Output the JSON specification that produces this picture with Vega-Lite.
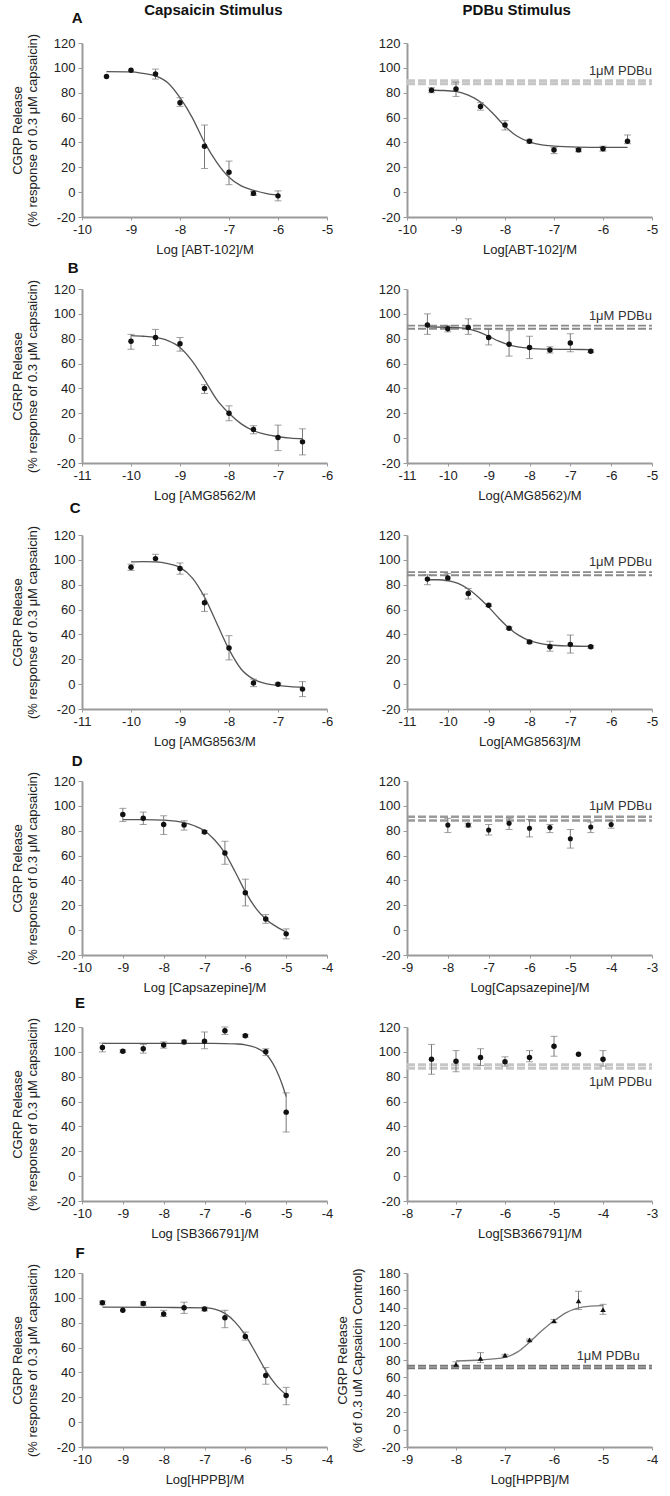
{
"$schema":"https://vega.github.io/schema/vega-lite/v6.json",
"padding":{"left":11,"top":3,"right":6,"bottom":4},
"background":"white",
"config":{"view":{"stroke":null},"font":"Liberation Sans",
 "axis":{"domainColor":"#9a9a9a","domainWidth":2,"tickColor":"#9a9a9a","labelFont":"Liberation Sans","labelFontSize":13,"labelColor":"#222","titleFont":"Liberation Sans","titleFontSize":13,"titleFontWeight":"normal","titleColor":"#222","grid":false,"labelFlush":false,"labelOverlap":false,"labelExpr":"'' + datum.value"},
 "axisX":{"tickSize":3,"labelPadding":3,"titlePadding":7},
 "axisY":{"tickSize":4,"labelPadding":3,"titlePadding":14,"titleLineHeight":15}},
"datasets":{
"pts":[
{"p":"A1","x":-9.5,"y":93,"lo":93,"hi":93},{"p":"A1","x":-9,"y":98,"lo":98,"hi":98},{"p":"A1","x":-8.5,"y":95,"lo":91,"hi":99},{"p":"A1","x":-8,"y":72,"lo":69,"hi":76},{"p":"A1","x":-7.5,"y":37,"lo":19,"hi":54},{"p":"A1","x":-7,"y":16,"lo":6,"hi":25},{"p":"A1","x":-6.5,"y":-1,"lo":-2.5,"hi":0.5},{"p":"A1","x":-6,"y":-3,"lo":-7,"hi":1},
{"p":"A2","x":-9.5,"y":82,"lo":80,"hi":84},{"p":"A2","x":-9,"y":83,"lo":77,"hi":88.5},{"p":"A2","x":-8.5,"y":69,"lo":66,"hi":72},{"p":"A2","x":-8,"y":54,"lo":50,"hi":57.5},{"p":"A2","x":-7.5,"y":41,"lo":39.5,"hi":42.5},{"p":"A2","x":-7,"y":34,"lo":31,"hi":36},{"p":"A2","x":-6.5,"y":34,"lo":32.5,"hi":35},{"p":"A2","x":-6,"y":35,"lo":33,"hi":37},{"p":"A2","x":-5.5,"y":41,"lo":39,"hi":46},
{"p":"B1","x":-10,"y":78,"lo":71.5,"hi":83.5},{"p":"B1","x":-9.5,"y":81,"lo":74.5,"hi":87.5},{"p":"B1","x":-9,"y":76,"lo":70,"hi":81},{"p":"B1","x":-8.5,"y":40,"lo":36,"hi":43},{"p":"B1","x":-8,"y":20,"lo":14,"hi":26},{"p":"B1","x":-7.5,"y":7,"lo":3.5,"hi":10},{"p":"B1","x":-7,"y":0.5,"lo":-10,"hi":10.5},{"p":"B1","x":-6.5,"y":-3,"lo":-13.5,"hi":7.5},
{"p":"B2","x":-10.5,"y":91,"lo":83.5,"hi":100},{"p":"B2","x":-10,"y":88,"lo":85.5,"hi":90.5},{"p":"B2","x":-9.5,"y":89,"lo":83.5,"hi":96},{"p":"B2","x":-9,"y":81,"lo":75,"hi":87.5},{"p":"B2","x":-8.5,"y":75.5,"lo":66,"hi":86.5},{"p":"B2","x":-8,"y":73,"lo":64,"hi":82},{"p":"B2","x":-7.5,"y":71,"lo":68.5,"hi":73.5},{"p":"B2","x":-7,"y":76.5,"lo":69.5,"hi":84},{"p":"B2","x":-6.5,"y":70,"lo":69,"hi":71},
{"p":"C1","x":-10,"y":94,"lo":91.5,"hi":96.5},{"p":"C1","x":-9.5,"y":101,"lo":98.5,"hi":104.5},{"p":"C1","x":-9,"y":93,"lo":88.5,"hi":97.5},{"p":"C1","x":-8.5,"y":65.5,"lo":58.5,"hi":72.5},{"p":"C1","x":-8,"y":29,"lo":19.5,"hi":39},{"p":"C1","x":-7.5,"y":1,"lo":-2,"hi":4},{"p":"C1","x":-7,"y":0,"lo":-1,"hi":1},{"p":"C1","x":-6.5,"y":-4,"lo":-10,"hi":2},
{"p":"C2","x":-10.5,"y":84.5,"lo":80,"hi":88},{"p":"C2","x":-10,"y":85.5,"lo":83,"hi":89},{"p":"C2","x":-9.5,"y":73,"lo":68.5,"hi":77},{"p":"C2","x":-9,"y":63.5,"lo":62.5,"hi":64.5},{"p":"C2","x":-8.5,"y":45,"lo":44,"hi":46},{"p":"C2","x":-8,"y":34,"lo":33,"hi":35},{"p":"C2","x":-7.5,"y":30,"lo":26.5,"hi":34.5},{"p":"C2","x":-7,"y":32,"lo":25,"hi":39.5},{"p":"C2","x":-6.5,"y":30,"lo":29,"hi":31},
{"p":"D1","x":-9,"y":93,"lo":87.5,"hi":98},{"p":"D1","x":-8.5,"y":90,"lo":85,"hi":95},{"p":"D1","x":-8,"y":85,"lo":77,"hi":92},{"p":"D1","x":-7.5,"y":84.5,"lo":80.5,"hi":88},{"p":"D1","x":-7,"y":79,"lo":78,"hi":80},{"p":"D1","x":-6.5,"y":62,"lo":53,"hi":71.5},{"p":"D1","x":-6,"y":30,"lo":19.5,"hi":41},{"p":"D1","x":-5.5,"y":9,"lo":5.5,"hi":12.5},{"p":"D1","x":-5,"y":-3,"lo":-7,"hi":1},
{"p":"D2","x":-8,"y":84.5,"lo":78.5,"hi":90},{"p":"D2","x":-7.5,"y":84.5,"lo":83,"hi":86},{"p":"D2","x":-7,"y":80.5,"lo":76.5,"hi":85},{"p":"D2","x":-6.5,"y":86,"lo":81,"hi":90},{"p":"D2","x":-6,"y":82,"lo":75,"hi":89},{"p":"D2","x":-5.5,"y":82.5,"lo":78.5,"hi":85},{"p":"D2","x":-5,"y":73.5,"lo":66,"hi":81},{"p":"D2","x":-4.5,"y":83,"lo":78.5,"hi":87},{"p":"D2","x":-4,"y":85,"lo":82,"hi":88},
{"p":"E1","x":-9.5,"y":103.5,"lo":100,"hi":107},{"p":"E1","x":-9,"y":100.5,"lo":99.5,"hi":101.5},{"p":"E1","x":-8.5,"y":102.5,"lo":99,"hi":106},{"p":"E1","x":-8,"y":105.5,"lo":103,"hi":108},{"p":"E1","x":-7.5,"y":108,"lo":106.5,"hi":109.5},{"p":"E1","x":-7,"y":108.5,"lo":102.5,"hi":116},{"p":"E1","x":-6.5,"y":117,"lo":114,"hi":120},{"p":"E1","x":-6,"y":113,"lo":112,"hi":114},{"p":"E1","x":-5.5,"y":100,"lo":97,"hi":102.5},{"p":"E1","x":-5,"y":51.5,"lo":35.5,"hi":67},
{"p":"E2","x":-7.5,"y":94,"lo":82,"hi":106},{"p":"E2","x":-7,"y":92.5,"lo":84,"hi":101},{"p":"E2","x":-6.5,"y":95.5,"lo":89,"hi":102.5},{"p":"E2","x":-6,"y":92,"lo":88.5,"hi":96},{"p":"E2","x":-5.5,"y":95.5,"lo":92,"hi":101},{"p":"E2","x":-5,"y":104.5,"lo":96.5,"hi":112.5},{"p":"E2","x":-4.5,"y":98,"lo":98,"hi":98},{"p":"E2","x":-4,"y":94,"lo":88.5,"hi":101},
{"p":"F1","x":-9.5,"y":96,"lo":94.5,"hi":97.5},{"p":"F1","x":-9,"y":90,"lo":90,"hi":90},{"p":"F1","x":-8.5,"y":95.5,"lo":94,"hi":97},{"p":"F1","x":-8,"y":87,"lo":85,"hi":90},{"p":"F1","x":-7.5,"y":92,"lo":87.5,"hi":96.5},{"p":"F1","x":-7,"y":91,"lo":89.5,"hi":92.5},{"p":"F1","x":-6.5,"y":84,"lo":76,"hi":90},{"p":"F1","x":-6,"y":69,"lo":66,"hi":72.5},{"p":"F1","x":-5.5,"y":37.5,"lo":30.5,"hi":44},{"p":"F1","x":-5,"y":21.5,"lo":14,"hi":28},
{"p":"F2","x":-8,"y":75,"lo":72,"hi":78},{"p":"F2","x":-7.5,"y":82,"lo":77,"hi":88.5},{"p":"F2","x":-7,"y":85.5,"lo":84.5,"hi":86.5},{"p":"F2","x":-6.5,"y":103,"lo":102,"hi":104},{"p":"F2","x":-6,"y":125,"lo":123.5,"hi":126.5},{"p":"F2","x":-5.5,"y":148,"lo":138,"hi":159},{"p":"F2","x":-5,"y":138,"lo":132.5,"hi":144}
],
"fit":[
{"p":"A1","x":-9.5,"y":97},{"p":"A1","x":-9,"y":96.8},{"p":"A1","x":-8.75,"y":95.5},{"p":"A1","x":-8.5,"y":93.5},{"p":"A1","x":-8.25,"y":88},{"p":"A1","x":-8,"y":76},{"p":"A1","x":-7.75,"y":60},{"p":"A1","x":-7.5,"y":40},{"p":"A1","x":-7.25,"y":24},{"p":"A1","x":-7,"y":12},{"p":"A1","x":-6.75,"y":5},{"p":"A1","x":-6.5,"y":1.5},{"p":"A1","x":-6.25,"y":-1},{"p":"A1","x":-6,"y":-2.5},
{"p":"A2","x":-9.5,"y":82},{"p":"A2","x":-9.25,"y":81.8},{"p":"A2","x":-9,"y":81},{"p":"A2","x":-8.75,"y":78},{"p":"A2","x":-8.5,"y":72.5},{"p":"A2","x":-8.25,"y":63.5},{"p":"A2","x":-8,"y":53},{"p":"A2","x":-7.75,"y":45},{"p":"A2","x":-7.5,"y":40.5},{"p":"A2","x":-7.25,"y":38},{"p":"A2","x":-7,"y":37},{"p":"A2","x":-6.5,"y":36.2},{"p":"A2","x":-6,"y":36},{"p":"A2","x":-5.5,"y":36},
{"p":"B1","x":-10,"y":82.5},{"p":"B1","x":-9.75,"y":82},{"p":"B1","x":-9.5,"y":81},{"p":"B1","x":-9.25,"y":78.5},{"p":"B1","x":-9,"y":73},{"p":"B1","x":-8.75,"y":62},{"p":"B1","x":-8.5,"y":47},{"p":"B1","x":-8.25,"y":31},{"p":"B1","x":-8,"y":20},{"p":"B1","x":-7.75,"y":11.5},{"p":"B1","x":-7.5,"y":6},{"p":"B1","x":-7.25,"y":3},{"p":"B1","x":-7,"y":1.2},{"p":"B1","x":-6.75,"y":0},{"p":"B1","x":-6.5,"y":-0.5},
{"p":"B2","x":-10.5,"y":89.5},{"p":"B2","x":-10,"y":89.2},{"p":"B2","x":-9.75,"y":89},{"p":"B2","x":-9.5,"y":88},{"p":"B2","x":-9.25,"y":85.5},{"p":"B2","x":-9,"y":82},{"p":"B2","x":-8.75,"y":78},{"p":"B2","x":-8.5,"y":75},{"p":"B2","x":-8.25,"y":73.2},{"p":"B2","x":-8,"y":72.3},{"p":"B2","x":-7.5,"y":71.6},{"p":"B2","x":-7,"y":71.4},{"p":"B2","x":-6.5,"y":71.3},
{"p":"C1","x":-10,"y":98.3},{"p":"C1","x":-9.75,"y":98.5},{"p":"C1","x":-9.5,"y":98.3},{"p":"C1","x":-9.25,"y":97},{"p":"C1","x":-9,"y":94},{"p":"C1","x":-8.75,"y":85.5},{"p":"C1","x":-8.5,"y":70},{"p":"C1","x":-8.25,"y":49},{"p":"C1","x":-8,"y":28},{"p":"C1","x":-7.75,"y":12},{"p":"C1","x":-7.5,"y":4},{"p":"C1","x":-7.25,"y":0.5},{"p":"C1","x":-7,"y":-1},{"p":"C1","x":-6.75,"y":-2},{"p":"C1","x":-6.5,"y":-2.5},
{"p":"C2","x":-10.5,"y":84},{"p":"C2","x":-10.25,"y":84},{"p":"C2","x":-10,"y":83.3},{"p":"C2","x":-9.75,"y":81},{"p":"C2","x":-9.5,"y":76.5},{"p":"C2","x":-9.25,"y":70},{"p":"C2","x":-9,"y":62},{"p":"C2","x":-8.75,"y":53},{"p":"C2","x":-8.5,"y":45},{"p":"C2","x":-8.25,"y":39},{"p":"C2","x":-8,"y":35},{"p":"C2","x":-7.75,"y":32.8},{"p":"C2","x":-7.5,"y":31.5},{"p":"C2","x":-7,"y":30.7},{"p":"C2","x":-6.5,"y":30.4},
{"p":"D1","x":-9,"y":89},{"p":"D1","x":-8.5,"y":89},{"p":"D1","x":-8,"y":88.5},{"p":"D1","x":-7.5,"y":86.5},{"p":"D1","x":-7.25,"y":84},{"p":"D1","x":-7,"y":80},{"p":"D1","x":-6.75,"y":72.5},{"p":"D1","x":-6.5,"y":62},{"p":"D1","x":-6.25,"y":47},{"p":"D1","x":-6,"y":31},{"p":"D1","x":-5.75,"y":18},{"p":"D1","x":-5.5,"y":9},{"p":"D1","x":-5.25,"y":3},{"p":"D1","x":-5,"y":-1.5},
{"p":"E1","x":-9.5,"y":106.8},{"p":"E1","x":-8,"y":106.8},{"p":"E1","x":-7,"y":106.8},{"p":"E1","x":-6.5,"y":106.7},{"p":"E1","x":-6.25,"y":106.4},{"p":"E1","x":-6,"y":105.7},{"p":"E1","x":-5.75,"y":103.5},{"p":"E1","x":-5.5,"y":98.5},{"p":"E1","x":-5.25,"y":86},{"p":"E1","x":-5.1,"y":74},{"p":"E1","x":-5,"y":64},
{"p":"F1","x":-9.5,"y":92.5},{"p":"F1","x":-8,"y":92.3},{"p":"F1","x":-7,"y":92},{"p":"F1","x":-6.75,"y":91},{"p":"F1","x":-6.5,"y":87.5},{"p":"F1","x":-6.25,"y":80.5},{"p":"F1","x":-6,"y":70},{"p":"F1","x":-5.75,"y":56},{"p":"F1","x":-5.5,"y":41.5},{"p":"F1","x":-5.25,"y":30},{"p":"F1","x":-5,"y":22},
{"p":"F2","x":-8,"y":79},{"p":"F2","x":-7.5,"y":80},{"p":"F2","x":-7,"y":83},{"p":"F2","x":-6.75,"y":89},{"p":"F2","x":-6.5,"y":100.5},{"p":"F2","x":-6.25,"y":113.5},{"p":"F2","x":-6,"y":125},{"p":"F2","x":-5.75,"y":134.5},{"p":"F2","x":-5.5,"y":140},{"p":"F2","x":-5.25,"y":142},{"p":"F2","x":-5,"y":142.5}
],
"ref":[
{"p":"A2","x":-10,"x2":-5,"y":87.3},{"p":"A2","x":-10,"x2":-5,"y":89.7},
{"p":"B2","x":-11,"x2":-5,"y":88},{"p":"B2","x":-11,"x2":-5,"y":90.5},
{"p":"C2","x":-11,"x2":-5,"y":87.6},{"p":"C2","x":-11,"x2":-5,"y":90.2},
{"p":"D2","x":-9,"x2":-3,"y":88.3},{"p":"D2","x":-9,"x2":-3,"y":91.2},
{"p":"E2","x":-8,"x2":-3,"y":86.9},{"p":"E2","x":-8,"x2":-3,"y":89.6},
{"p":"F2","x":-9,"x2":-4,"y":70.6},{"p":"F2","x":-9,"x2":-4,"y":73.3}
],
"lbl":[
{"p":"A2","x":-5,"y":97.3,"t":"1μM PDBu"},{"p":"B2","x":-5,"y":98.5,"t":"1μM PDBu"},{"p":"C2","x":-5,"y":98.2,"t":"1μM PDBu"},{"p":"D2","x":-3,"y":99.7,"t":"1μM PDBu"},{"p":"E2","x":-3,"y":76,"t":"1μM PDBu"},{"p":"F2","x":-4.25,"y":84.8,"t":"1μM PDBu"}
],
"hdr":[
{"p":"A1","x":-7.32,"y":146.5,"t":"Capsaicin Stimulus"},{"p":"A2","x":-7.76,"y":146.5,"t":"PDBu Stimulus"},
{"p":"A1","x":-10.1,"y":140,"t":"A"},{"p":"B1","x":-11.18,"y":137,"t":"B"},{"p":"C1","x":-11.14,"y":141.5,"t":"C"},{"p":"D1","x":-10.12,"y":136,"t":"D"},{"p":"E1","x":-10.05,"y":139,"t":"E"},{"p":"F1","x":-10.05,"y":136,"t":"F"}
]
},
"bounds":"flush",
"columns":2,
"spacing":{"row":72,"column":80},
"concat":[
 {"width":245,"height":174,
  "encoding":{"x":{"field":"x","type":"quantitative","scale":{"domain":[-10,-5]},"axis":{"values":[-10,-9,-8,-7,-6,-5],"title":"Log [ABT-102]/M"}},
   "y":{"field":"y","type":"quantitative","scale":{"domain":[-20,120]},"axis":{"values":[-20,0,20,40,60,80,100,120],"title":["CGRP Release","(% response of 0.3 μM capsaicin)"]}}},
  "layer":[
   {"data":{"name":"fit"},"transform":[{"filter":"datum.p=='A1'"}],"mark":{"type":"line","interpolate":"monotone","color":"#555","strokeWidth":1.3}},
   {"data":{"name":"pts"},"transform":[{"filter":"datum.p=='A1' && datum.hi>datum.lo"}],"mark":{"type":"rule","color":"#777","strokeWidth":1},"encoding":{"y":{"field":"lo","type":"quantitative","scale":{"domain":[-20,120]}},"y2":{"field":"hi"}}},
   {"data":{"name":"pts"},"transform":[{"filter":"datum.p=='A1' && datum.hi>datum.lo"}],"mark":{"type":"tick","orient":"horizontal","color":"#777","size":7,"thickness":1},"encoding":{"y":{"field":"lo","type":"quantitative","scale":{"domain":[-20,120]}}}},
   {"data":{"name":"pts"},"transform":[{"filter":"datum.p=='A1' && datum.hi>datum.lo"}],"mark":{"type":"tick","orient":"horizontal","color":"#777","size":7,"thickness":1},"encoding":{"y":{"field":"hi","type":"quantitative","scale":{"domain":[-20,120]}}}},
   {"data":{"name":"pts"},"transform":[{"filter":"datum.p=='A1'"}],"mark":{"type":"point","shape":"circle","filled":true,"color":"#111","size":30,"opacity":1}},
   {"data":{"name":"hdr"},"transform":[{"filter":"datum.p=='A1'"}],"mark":{"type":"text","fontWeight":"bold","fontSize":15,"align":"center","baseline":"middle","color":"#111"},"encoding":{"text":{"field":"t"}}}
  ]},
 {"width":245,"height":174,
  "encoding":{"x":{"field":"x","type":"quantitative","scale":{"domain":[-10,-5]},"axis":{"values":[-10,-9,-8,-7,-6,-5],"title":"Log[ABT-102]/M"}},
   "y":{"field":"y","type":"quantitative","scale":{"domain":[-20,120]},"axis":{"values":[-20,0,20,40,60,80,100,120],"title":null}}},
  "layer":[
   {"data":{"name":"ref"},"transform":[{"filter":"datum.p=='A2'"}],"mark":{"type":"rule","color":"#c6c6c6","strokeWidth":3,"strokeDash":[8,3]},"encoding":{"x2":{"field":"x2"}}},
   {"data":{"name":"fit"},"transform":[{"filter":"datum.p=='A2'"}],"mark":{"type":"line","interpolate":"monotone","color":"#555","strokeWidth":1.3}},
   {"data":{"name":"pts"},"transform":[{"filter":"datum.p=='A2' && datum.hi>datum.lo"}],"mark":{"type":"rule","color":"#777","strokeWidth":1},"encoding":{"y":{"field":"lo","type":"quantitative","scale":{"domain":[-20,120]}},"y2":{"field":"hi"}}},
   {"data":{"name":"pts"},"transform":[{"filter":"datum.p=='A2' && datum.hi>datum.lo"}],"mark":{"type":"tick","orient":"horizontal","color":"#777","size":7,"thickness":1},"encoding":{"y":{"field":"lo","type":"quantitative","scale":{"domain":[-20,120]}}}},
   {"data":{"name":"pts"},"transform":[{"filter":"datum.p=='A2' && datum.hi>datum.lo"}],"mark":{"type":"tick","orient":"horizontal","color":"#777","size":7,"thickness":1},"encoding":{"y":{"field":"hi","type":"quantitative","scale":{"domain":[-20,120]}}}},
   {"data":{"name":"pts"},"transform":[{"filter":"datum.p=='A2'"}],"mark":{"type":"point","shape":"circle","filled":true,"color":"#111","size":30,"opacity":1}},
   {"data":{"name":"lbl"},"transform":[{"filter":"datum.p=='A2'"}],"mark":{"type":"text","align":"right","baseline":"middle","fontSize":13,"color":"#333"},"encoding":{"text":{"field":"t"}}},
   {"data":{"name":"hdr"},"transform":[{"filter":"datum.p=='A2'"}],"mark":{"type":"text","fontWeight":"bold","fontSize":15,"align":"center","baseline":"middle","color":"#111"},"encoding":{"text":{"field":"t"}}}
  ]},
 {"width":245,"height":174,
  "encoding":{"x":{"field":"x","type":"quantitative","scale":{"domain":[-11,-6]},"axis":{"values":[-11,-10,-9,-8,-7,-6],"title":"Log [AMG8562/M"}},
   "y":{"field":"y","type":"quantitative","scale":{"domain":[-20,120]},"axis":{"values":[-20,0,20,40,60,80,100,120],"title":["CGRP Release","(% response of 0.3 μM capsaicin)"]}}},
  "layer":[
   {"data":{"name":"fit"},"transform":[{"filter":"datum.p=='B1'"}],"mark":{"type":"line","interpolate":"monotone","color":"#555","strokeWidth":1.3}},
   {"data":{"name":"pts"},"transform":[{"filter":"datum.p=='B1' && datum.hi>datum.lo"}],"mark":{"type":"rule","color":"#777","strokeWidth":1},"encoding":{"y":{"field":"lo","type":"quantitative","scale":{"domain":[-20,120]}},"y2":{"field":"hi"}}},
   {"data":{"name":"pts"},"transform":[{"filter":"datum.p=='B1' && datum.hi>datum.lo"}],"mark":{"type":"tick","orient":"horizontal","color":"#777","size":7,"thickness":1},"encoding":{"y":{"field":"lo","type":"quantitative","scale":{"domain":[-20,120]}}}},
   {"data":{"name":"pts"},"transform":[{"filter":"datum.p=='B1' && datum.hi>datum.lo"}],"mark":{"type":"tick","orient":"horizontal","color":"#777","size":7,"thickness":1},"encoding":{"y":{"field":"hi","type":"quantitative","scale":{"domain":[-20,120]}}}},
   {"data":{"name":"pts"},"transform":[{"filter":"datum.p=='B1'"}],"mark":{"type":"point","shape":"circle","filled":true,"color":"#111","size":30,"opacity":1}},
   {"data":{"name":"hdr"},"transform":[{"filter":"datum.p=='B1'"}],"mark":{"type":"text","fontWeight":"bold","fontSize":15,"align":"center","baseline":"middle","color":"#111"},"encoding":{"text":{"field":"t"}}}
  ]},
 {"width":245,"height":174,
  "encoding":{"x":{"field":"x","type":"quantitative","scale":{"domain":[-11,-5]},"axis":{"values":[-11,-10,-9,-8,-7,-6,-5],"title":"Log(AMG8562)/M"}},
   "y":{"field":"y","type":"quantitative","scale":{"domain":[-20,120]},"axis":{"values":[-20,0,20,40,60,80,100,120],"title":null}}},
  "layer":[
   {"data":{"name":"ref"},"transform":[{"filter":"datum.p=='B2'"}],"mark":{"type":"rule","color":"#8a8a8a","strokeWidth":1.8,"strokeDash":[8,3]},"encoding":{"x2":{"field":"x2"}}},
   {"data":{"name":"fit"},"transform":[{"filter":"datum.p=='B2'"}],"mark":{"type":"line","interpolate":"monotone","color":"#555","strokeWidth":1.3}},
   {"data":{"name":"pts"},"transform":[{"filter":"datum.p=='B2' && datum.hi>datum.lo"}],"mark":{"type":"rule","color":"#777","strokeWidth":1},"encoding":{"y":{"field":"lo","type":"quantitative","scale":{"domain":[-20,120]}},"y2":{"field":"hi"}}},
   {"data":{"name":"pts"},"transform":[{"filter":"datum.p=='B2' && datum.hi>datum.lo"}],"mark":{"type":"tick","orient":"horizontal","color":"#777","size":7,"thickness":1},"encoding":{"y":{"field":"lo","type":"quantitative","scale":{"domain":[-20,120]}}}},
   {"data":{"name":"pts"},"transform":[{"filter":"datum.p=='B2' && datum.hi>datum.lo"}],"mark":{"type":"tick","orient":"horizontal","color":"#777","size":7,"thickness":1},"encoding":{"y":{"field":"hi","type":"quantitative","scale":{"domain":[-20,120]}}}},
   {"data":{"name":"pts"},"transform":[{"filter":"datum.p=='B2'"}],"mark":{"type":"point","shape":"circle","filled":true,"color":"#111","size":30,"opacity":1}},
   {"data":{"name":"lbl"},"transform":[{"filter":"datum.p=='B2'"}],"mark":{"type":"text","align":"right","baseline":"middle","fontSize":13,"color":"#333"},"encoding":{"text":{"field":"t"}}}
  ]},
 {"width":245,"height":174,
  "encoding":{"x":{"field":"x","type":"quantitative","scale":{"domain":[-11,-6]},"axis":{"values":[-11,-10,-9,-8,-7,-6],"title":"Log [AMG8563/M"}},
   "y":{"field":"y","type":"quantitative","scale":{"domain":[-20,120]},"axis":{"values":[-20,0,20,40,60,80,100,120],"title":["CGRP Release","(% response of 0.3 μM capsaicin)"]}}},
  "layer":[
   {"data":{"name":"fit"},"transform":[{"filter":"datum.p=='C1'"}],"mark":{"type":"line","interpolate":"monotone","color":"#555","strokeWidth":1.3}},
   {"data":{"name":"pts"},"transform":[{"filter":"datum.p=='C1' && datum.hi>datum.lo"}],"mark":{"type":"rule","color":"#777","strokeWidth":1},"encoding":{"y":{"field":"lo","type":"quantitative","scale":{"domain":[-20,120]}},"y2":{"field":"hi"}}},
   {"data":{"name":"pts"},"transform":[{"filter":"datum.p=='C1' && datum.hi>datum.lo"}],"mark":{"type":"tick","orient":"horizontal","color":"#777","size":7,"thickness":1},"encoding":{"y":{"field":"lo","type":"quantitative","scale":{"domain":[-20,120]}}}},
   {"data":{"name":"pts"},"transform":[{"filter":"datum.p=='C1' && datum.hi>datum.lo"}],"mark":{"type":"tick","orient":"horizontal","color":"#777","size":7,"thickness":1},"encoding":{"y":{"field":"hi","type":"quantitative","scale":{"domain":[-20,120]}}}},
   {"data":{"name":"pts"},"transform":[{"filter":"datum.p=='C1'"}],"mark":{"type":"point","shape":"circle","filled":true,"color":"#111","size":30,"opacity":1}},
   {"data":{"name":"hdr"},"transform":[{"filter":"datum.p=='C1'"}],"mark":{"type":"text","fontWeight":"bold","fontSize":15,"align":"center","baseline":"middle","color":"#111"},"encoding":{"text":{"field":"t"}}}
  ]},
 {"width":245,"height":174,
  "encoding":{"x":{"field":"x","type":"quantitative","scale":{"domain":[-11,-5]},"axis":{"values":[-11,-10,-9,-8,-7,-6,-5],"title":"Log[AMG8563]/M"}},
   "y":{"field":"y","type":"quantitative","scale":{"domain":[-20,120]},"axis":{"values":[-20,0,20,40,60,80,100,120],"title":null}}},
  "layer":[
   {"data":{"name":"ref"},"transform":[{"filter":"datum.p=='C2'"}],"mark":{"type":"rule","color":"#8a8a8a","strokeWidth":1.8,"strokeDash":[8,3]},"encoding":{"x2":{"field":"x2"}}},
   {"data":{"name":"fit"},"transform":[{"filter":"datum.p=='C2'"}],"mark":{"type":"line","interpolate":"monotone","color":"#555","strokeWidth":1.3}},
   {"data":{"name":"pts"},"transform":[{"filter":"datum.p=='C2' && datum.hi>datum.lo"}],"mark":{"type":"rule","color":"#777","strokeWidth":1},"encoding":{"y":{"field":"lo","type":"quantitative","scale":{"domain":[-20,120]}},"y2":{"field":"hi"}}},
   {"data":{"name":"pts"},"transform":[{"filter":"datum.p=='C2' && datum.hi>datum.lo"}],"mark":{"type":"tick","orient":"horizontal","color":"#777","size":7,"thickness":1},"encoding":{"y":{"field":"lo","type":"quantitative","scale":{"domain":[-20,120]}}}},
   {"data":{"name":"pts"},"transform":[{"filter":"datum.p=='C2' && datum.hi>datum.lo"}],"mark":{"type":"tick","orient":"horizontal","color":"#777","size":7,"thickness":1},"encoding":{"y":{"field":"hi","type":"quantitative","scale":{"domain":[-20,120]}}}},
   {"data":{"name":"pts"},"transform":[{"filter":"datum.p=='C2'"}],"mark":{"type":"point","shape":"circle","filled":true,"color":"#111","size":30,"opacity":1}},
   {"data":{"name":"lbl"},"transform":[{"filter":"datum.p=='C2'"}],"mark":{"type":"text","align":"right","baseline":"middle","fontSize":13,"color":"#333"},"encoding":{"text":{"field":"t"}}}
  ]},
 {"width":245,"height":174,
  "encoding":{"x":{"field":"x","type":"quantitative","scale":{"domain":[-10,-4]},"axis":{"values":[-10,-9,-8,-7,-6,-5,-4],"title":"Log [Capsazepine]/M"}},
   "y":{"field":"y","type":"quantitative","scale":{"domain":[-20,120]},"axis":{"values":[-20,0,20,40,60,80,100,120],"title":["CGRP Release","(% response of 0.3 μM capsaicin)"]}}},
  "layer":[
   {"data":{"name":"fit"},"transform":[{"filter":"datum.p=='D1'"}],"mark":{"type":"line","interpolate":"monotone","color":"#555","strokeWidth":1.3}},
   {"data":{"name":"pts"},"transform":[{"filter":"datum.p=='D1' && datum.hi>datum.lo"}],"mark":{"type":"rule","color":"#777","strokeWidth":1},"encoding":{"y":{"field":"lo","type":"quantitative","scale":{"domain":[-20,120]}},"y2":{"field":"hi"}}},
   {"data":{"name":"pts"},"transform":[{"filter":"datum.p=='D1' && datum.hi>datum.lo"}],"mark":{"type":"tick","orient":"horizontal","color":"#777","size":7,"thickness":1},"encoding":{"y":{"field":"lo","type":"quantitative","scale":{"domain":[-20,120]}}}},
   {"data":{"name":"pts"},"transform":[{"filter":"datum.p=='D1' && datum.hi>datum.lo"}],"mark":{"type":"tick","orient":"horizontal","color":"#777","size":7,"thickness":1},"encoding":{"y":{"field":"hi","type":"quantitative","scale":{"domain":[-20,120]}}}},
   {"data":{"name":"pts"},"transform":[{"filter":"datum.p=='D1'"}],"mark":{"type":"point","shape":"circle","filled":true,"color":"#111","size":30,"opacity":1}},
   {"data":{"name":"hdr"},"transform":[{"filter":"datum.p=='D1'"}],"mark":{"type":"text","fontWeight":"bold","fontSize":15,"align":"center","baseline":"middle","color":"#111"},"encoding":{"text":{"field":"t"}}}
  ]},
 {"width":245,"height":174,
  "encoding":{"x":{"field":"x","type":"quantitative","scale":{"domain":[-9,-3]},"axis":{"values":[-9,-8,-7,-6,-5,-4,-3],"title":"Log[Capsazepine]/M"}},
   "y":{"field":"y","type":"quantitative","scale":{"domain":[-20,120]},"axis":{"values":[-20,0,20,40,60,80,100,120],"title":null}}},
  "layer":[
   {"data":{"name":"ref"},"transform":[{"filter":"datum.p=='D2'"}],"mark":{"type":"rule","color":"#9a9a9a","strokeWidth":2.5,"strokeDash":[8,3]},"encoding":{"x2":{"field":"x2"}}},
   {"data":{"name":"pts"},"transform":[{"filter":"datum.p=='D2' && datum.hi>datum.lo"}],"mark":{"type":"rule","color":"#777","strokeWidth":1},"encoding":{"y":{"field":"lo","type":"quantitative","scale":{"domain":[-20,120]}},"y2":{"field":"hi"}}},
   {"data":{"name":"pts"},"transform":[{"filter":"datum.p=='D2' && datum.hi>datum.lo"}],"mark":{"type":"tick","orient":"horizontal","color":"#777","size":7,"thickness":1},"encoding":{"y":{"field":"lo","type":"quantitative","scale":{"domain":[-20,120]}}}},
   {"data":{"name":"pts"},"transform":[{"filter":"datum.p=='D2' && datum.hi>datum.lo"}],"mark":{"type":"tick","orient":"horizontal","color":"#777","size":7,"thickness":1},"encoding":{"y":{"field":"hi","type":"quantitative","scale":{"domain":[-20,120]}}}},
   {"data":{"name":"pts"},"transform":[{"filter":"datum.p=='D2'"}],"mark":{"type":"point","shape":"circle","filled":true,"color":"#111","size":26,"opacity":1}},
   {"data":{"name":"lbl"},"transform":[{"filter":"datum.p=='D2'"}],"mark":{"type":"text","align":"right","baseline":"middle","fontSize":13,"color":"#333"},"encoding":{"text":{"field":"t"}}}
  ]},
 {"width":245,"height":174,
  "encoding":{"x":{"field":"x","type":"quantitative","scale":{"domain":[-10,-4]},"axis":{"values":[-10,-9,-8,-7,-6,-5,-4],"title":"Log [SB366791]/M"}},
   "y":{"field":"y","type":"quantitative","scale":{"domain":[-20,120]},"axis":{"values":[-20,0,20,40,60,80,100,120],"title":["CGRP Release","(% response of 0.3 μM capsaicin)"]}}},
  "layer":[
   {"data":{"name":"fit"},"transform":[{"filter":"datum.p=='E1'"}],"mark":{"type":"line","interpolate":"monotone","color":"#555","strokeWidth":1.3}},
   {"data":{"name":"pts"},"transform":[{"filter":"datum.p=='E1' && datum.hi>datum.lo"}],"mark":{"type":"rule","color":"#777","strokeWidth":1},"encoding":{"y":{"field":"lo","type":"quantitative","scale":{"domain":[-20,120]}},"y2":{"field":"hi"}}},
   {"data":{"name":"pts"},"transform":[{"filter":"datum.p=='E1' && datum.hi>datum.lo"}],"mark":{"type":"tick","orient":"horizontal","color":"#777","size":7,"thickness":1},"encoding":{"y":{"field":"lo","type":"quantitative","scale":{"domain":[-20,120]}}}},
   {"data":{"name":"pts"},"transform":[{"filter":"datum.p=='E1' && datum.hi>datum.lo"}],"mark":{"type":"tick","orient":"horizontal","color":"#777","size":7,"thickness":1},"encoding":{"y":{"field":"hi","type":"quantitative","scale":{"domain":[-20,120]}}}},
   {"data":{"name":"pts"},"transform":[{"filter":"datum.p=='E1'"}],"mark":{"type":"point","shape":"circle","filled":true,"color":"#111","size":30,"opacity":1}},
   {"data":{"name":"hdr"},"transform":[{"filter":"datum.p=='E1'"}],"mark":{"type":"text","fontWeight":"bold","fontSize":15,"align":"center","baseline":"middle","color":"#111"},"encoding":{"text":{"field":"t"}}}
  ]},
 {"width":245,"height":174,
  "encoding":{"x":{"field":"x","type":"quantitative","scale":{"domain":[-8,-3]},"axis":{"values":[-8,-7,-6,-5,-4,-3],"title":"Log[SB366791]/M"}},
   "y":{"field":"y","type":"quantitative","scale":{"domain":[-20,120]},"axis":{"values":[-20,0,20,40,60,80,100,120],"title":null}}},
  "layer":[
   {"data":{"name":"ref"},"transform":[{"filter":"datum.p=='E2'"}],"mark":{"type":"rule","color":"#c6c6c6","strokeWidth":3,"strokeDash":[8,3]},"encoding":{"x2":{"field":"x2"}}},
   {"data":{"name":"pts"},"transform":[{"filter":"datum.p=='E2' && datum.hi>datum.lo"}],"mark":{"type":"rule","color":"#777","strokeWidth":1},"encoding":{"y":{"field":"lo","type":"quantitative","scale":{"domain":[-20,120]}},"y2":{"field":"hi"}}},
   {"data":{"name":"pts"},"transform":[{"filter":"datum.p=='E2' && datum.hi>datum.lo"}],"mark":{"type":"tick","orient":"horizontal","color":"#777","size":7,"thickness":1},"encoding":{"y":{"field":"lo","type":"quantitative","scale":{"domain":[-20,120]}}}},
   {"data":{"name":"pts"},"transform":[{"filter":"datum.p=='E2' && datum.hi>datum.lo"}],"mark":{"type":"tick","orient":"horizontal","color":"#777","size":7,"thickness":1},"encoding":{"y":{"field":"hi","type":"quantitative","scale":{"domain":[-20,120]}}}},
   {"data":{"name":"pts"},"transform":[{"filter":"datum.p=='E2'"}],"mark":{"type":"point","shape":"circle","filled":true,"color":"#111","size":30,"opacity":1}},
   {"data":{"name":"lbl"},"transform":[{"filter":"datum.p=='E2'"}],"mark":{"type":"text","align":"right","baseline":"middle","fontSize":13,"color":"#333"},"encoding":{"text":{"field":"t"}}}
  ]},
 {"width":245,"height":174,
  "encoding":{"x":{"field":"x","type":"quantitative","scale":{"domain":[-10,-4]},"axis":{"values":[-10,-9,-8,-7,-6,-5,-4],"title":"Log[HPPB]/M"}},
   "y":{"field":"y","type":"quantitative","scale":{"domain":[-20,120]},"axis":{"values":[-20,0,20,40,60,80,100,120],"title":["CGRP Release","(% response of 0.3 μM capsaicin)"]}}},
  "layer":[
   {"data":{"name":"fit"},"transform":[{"filter":"datum.p=='F1'"}],"mark":{"type":"line","interpolate":"monotone","color":"#555","strokeWidth":1.3}},
   {"data":{"name":"pts"},"transform":[{"filter":"datum.p=='F1' && datum.hi>datum.lo"}],"mark":{"type":"rule","color":"#777","strokeWidth":1},"encoding":{"y":{"field":"lo","type":"quantitative","scale":{"domain":[-20,120]}},"y2":{"field":"hi"}}},
   {"data":{"name":"pts"},"transform":[{"filter":"datum.p=='F1' && datum.hi>datum.lo"}],"mark":{"type":"tick","orient":"horizontal","color":"#777","size":7,"thickness":1},"encoding":{"y":{"field":"lo","type":"quantitative","scale":{"domain":[-20,120]}}}},
   {"data":{"name":"pts"},"transform":[{"filter":"datum.p=='F1' && datum.hi>datum.lo"}],"mark":{"type":"tick","orient":"horizontal","color":"#777","size":7,"thickness":1},"encoding":{"y":{"field":"hi","type":"quantitative","scale":{"domain":[-20,120]}}}},
   {"data":{"name":"pts"},"transform":[{"filter":"datum.p=='F1'"}],"mark":{"type":"point","shape":"circle","filled":true,"color":"#111","size":30,"opacity":1}},
   {"data":{"name":"hdr"},"transform":[{"filter":"datum.p=='F1'"}],"mark":{"type":"text","fontWeight":"bold","fontSize":15,"align":"center","baseline":"middle","color":"#111"},"encoding":{"text":{"field":"t"}}}
  ]},
 {"width":245,"height":174,
  "encoding":{"x":{"field":"x","type":"quantitative","scale":{"domain":[-9,-4]},"axis":{"values":[-9,-8,-7,-6,-5,-4],"title":"Log[HPPB]/M"}},
   "y":{"field":"y","type":"quantitative","scale":{"domain":[-20,180]},"axis":{"values":[-20,0,20,40,60,80,100,120,140,160,180],"title":["CGRP Release","(% of 0.3 uM Capsaicin Control)"]}}},
  "layer":[
   {"data":{"name":"ref"},"transform":[{"filter":"datum.p=='F2'"}],"mark":{"type":"rule","color":"#777","strokeWidth":2,"strokeDash":[8,3]},"encoding":{"x2":{"field":"x2"}}},
   {"data":{"name":"fit"},"transform":[{"filter":"datum.p=='F2'"}],"mark":{"type":"line","interpolate":"monotone","color":"#777","strokeWidth":1.3}},
   {"data":{"name":"pts"},"transform":[{"filter":"datum.p=='F2' && datum.hi>datum.lo"}],"mark":{"type":"rule","color":"#777","strokeWidth":1},"encoding":{"y":{"field":"lo","type":"quantitative","scale":{"domain":[-20,180]}},"y2":{"field":"hi"}}},
   {"data":{"name":"pts"},"transform":[{"filter":"datum.p=='F2' && datum.hi>datum.lo"}],"mark":{"type":"tick","orient":"horizontal","color":"#777","size":7,"thickness":1},"encoding":{"y":{"field":"lo","type":"quantitative","scale":{"domain":[-20,180]}}}},
   {"data":{"name":"pts"},"transform":[{"filter":"datum.p=='F2' && datum.hi>datum.lo"}],"mark":{"type":"tick","orient":"horizontal","color":"#777","size":7,"thickness":1},"encoding":{"y":{"field":"hi","type":"quantitative","scale":{"domain":[-20,180]}}}},
   {"data":{"name":"pts"},"transform":[{"filter":"datum.p=='F2'"}],"mark":{"type":"point","shape":"triangle-up","filled":true,"color":"#111","size":30,"opacity":1}},
   {"data":{"name":"lbl"},"transform":[{"filter":"datum.p=='F2'"}],"mark":{"type":"text","align":"right","baseline":"middle","fontSize":13,"color":"#333"},"encoding":{"text":{"field":"t"}}}
  ]}
]
}
